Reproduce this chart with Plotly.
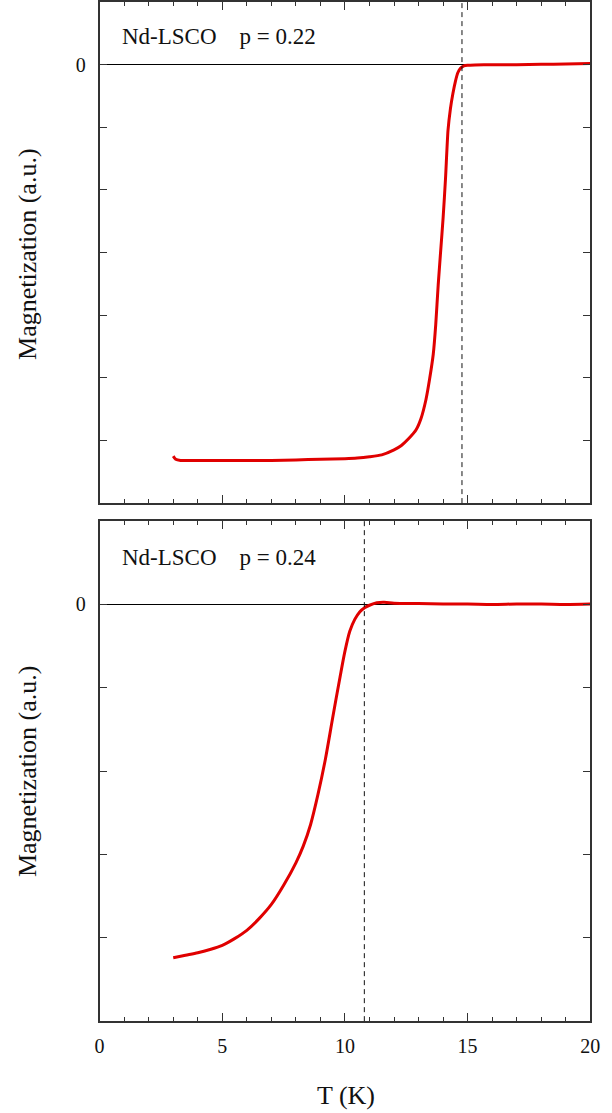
import plotly.graph_objects as go

# Temperature sweeps (K) and magnetization (arbitrary units, one unit per y tick)
T_p022 = [3.0, 3.1, 3.3, 4.0, 5.0, 6.0, 7.0, 8.0, 9.0, 10.0, 10.5, 11.0, 11.5,
          12.0, 12.3, 12.6, 12.9, 13.1, 13.3, 13.45, 13.6, 13.7, 13.8, 13.9,
          14.0, 14.1, 14.2, 14.3, 14.4, 14.5, 14.6, 14.7, 14.85, 15.0, 15.3,
          16.0, 17.0, 18.0, 19.0, 20.0]
M_p022 = [-6.25, -6.30, -6.32, -6.32, -6.32, -6.32, -6.32, -6.31, -6.30, -6.29,
          -6.28, -6.26, -6.23, -6.15, -6.08, -5.97, -5.83, -5.65, -5.35, -5.02,
          -4.62, -4.15, -3.52, -2.98, -2.45, -1.81, -1.05, -0.70, -0.46, -0.27,
          -0.13, -0.06, -0.02, -0.01, -0.005, 0.0, 0.0, 0.005, 0.01, 0.02]

T_p024 = [3.0, 3.5, 4.0, 4.5, 5.0, 5.5, 6.0, 6.5, 7.0, 7.5, 8.0, 8.3, 8.6, 8.9,
          9.2, 9.5, 9.8, 10.0, 10.2, 10.4, 10.6, 10.8, 11.0, 11.3, 11.6, 12.0,
          13.0, 14.0, 15.0, 16.0, 17.0, 18.0, 19.0, 20.0]
M_p024 = [-4.24, -4.21, -4.18, -4.14, -4.09, -4.01, -3.91, -3.77, -3.60, -3.37,
          -3.10, -2.90, -2.64, -2.28, -1.86, -1.36, -0.87, -0.56, -0.32, -0.18,
          -0.09, -0.04, -0.01, 0.02, 0.025, 0.015, 0.01, 0.005, 0.005, 0.0,
          0.005, 0.005, 0.0, 0.005]

# Transition temperatures marked by dashed lines
Tc_p022 = 14.77
Tc_p024 = 10.79

panel_labels = ["Nd-LSCO\u2002\u2002p = 0.22", "Nd-LSCO\u2002\u2002p = 0.24"]
x_ticks = [0, 5, 10, 15, 20]
y_ticks_top = [-7, -6, -5, -4, -3, -2, -1, 0]
y_ticks_bottom = [-5, -4, -3, -2, -1, 0]

FONT = "Liberation Serif, Times New Roman, serif"
RED = "#e00000"
AXIS = "#333333"

fig = go.Figure()
fig.add_trace(go.Scatter(x=T_p022, y=M_p022, mode="lines",
                         line=dict(color=RED, width=3, shape="spline", smoothing=0.6),
                         xaxis="x", yaxis="y", showlegend=False))
fig.add_trace(go.Scatter(x=T_p024, y=M_p024, mode="lines",
                         line=dict(color=RED, width=3, shape="spline", smoothing=0.8),
                         xaxis="x2", yaxis="y2", showlegend=False))

W, H = 612, 1113
x_dom = [97 / W, 600 / W]
top_dom = [(H - 502) / H, 1.0]
bot_dom = [(H - 1021) / H, (H - 520) / H]


def xaxis(anchor, labels):
    return dict(
        domain=x_dom, anchor=anchor, range=[0, 20],
        tickvals=x_ticks, ticktext=[str(v) for v in x_ticks] if labels else [""] * len(x_ticks),
        ticks="inside", ticklen=8, tickwidth=1, tickcolor=AXIS,
        minor=dict(dtick=1, ticks="inside", ticklen=4, tickwidth=1, tickcolor=AXIS),
        showline=True, linecolor=AXIS, linewidth=1.5, mirror="ticks",
        showgrid=False, zeroline=False,
        tickfont=dict(family=FONT, size=20, color="#111"),
        ticklabelstandoff=6, ticklabeloverflow="allow",
    )


def yaxis(anchor, dom, rng, vals):
    return dict(
        domain=dom, anchor=anchor, range=rng,
        tickvals=vals, ticktext=["0" if v == 0 else "" for v in vals],
        ticks="inside", ticklen=8, tickwidth=1, tickcolor=AXIS,
        showline=True, linecolor=AXIS, linewidth=1.5, mirror="ticks",
        showgrid=False, zeroline=True, zerolinecolor="#000", zerolinewidth=1,
        tickfont=dict(family=FONT, size=20, color="#111"),
        ticklabelstandoff=8,
    )


fig.update_layout(
    width=W, height=H,
    margin=dict(l=0, r=0, t=0, b=0),
    paper_bgcolor="white", plot_bgcolor="white",
    xaxis=xaxis("y", False),
    yaxis=yaxis("x", top_dom, [-7, 1], y_ticks_top),
    xaxis2=xaxis("y2", True),
    yaxis2=yaxis("x2", bot_dom, [-5, 1], y_ticks_bottom),
    font=dict(family=FONT, color="#111"),
)

# Dashed markers at the transition temperatures
for xref, yref, tc in [("x", "y domain", Tc_p022), ("x2", "y2 domain", Tc_p024)]:
    fig.add_shape(type="line", xref=xref, yref=yref, x0=tc, x1=tc, y0=0, y1=1,
                  line=dict(color="#111", width=1, dash="5px,4px"))

# Panel labels
for label, ycen in [(panel_labels[0], 35), (panel_labels[1], 557)]:
    fig.add_annotation(text=label, xref="paper", yref="paper",
                       x=118 / W, y=(H - ycen) / H, xanchor="left", yanchor="middle",
                       showarrow=False, font=dict(family=FONT, size=23, color="#111"))

# Axis titles
for ycen in [252, 770]:
    fig.add_annotation(text="Magnetization (a.u.)", xref="paper", yref="paper",
                       x=23 / W, y=(H - ycen) / H, xanchor="center", yanchor="middle",
                       textangle=-90, showarrow=False,
                       font=dict(family=FONT, size=26, color="#111"))
fig.add_annotation(text="T (K)", xref="paper", yref="paper",
                   x=350 / W, y=(H - 1095) / H, xanchor="center", yanchor="middle",
                   showarrow=False, font=dict(family=FONT, size=26, color="#111"))

fig.write_html("out.html")
